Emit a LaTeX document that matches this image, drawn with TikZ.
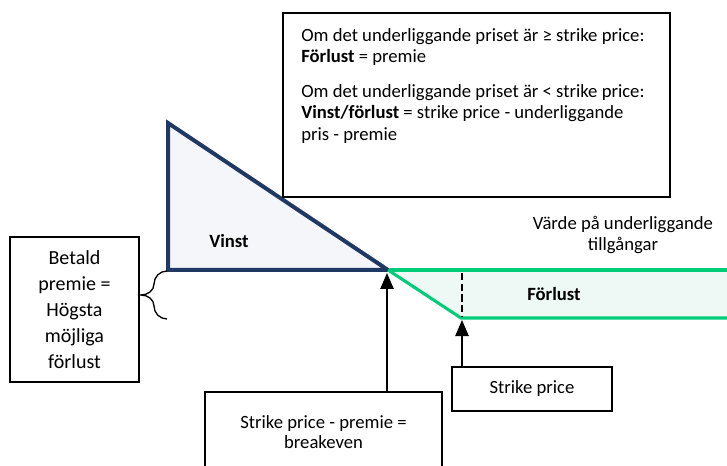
\documentclass[tikz,border=0pt]{standalone}
\usepackage{fontspec}
\setmainfont{Carlito}
\usetikzlibrary{arrows.meta}
\definecolor{navy}{RGB}{31,56,100}
\definecolor{navyfill}{RGB}{244,246,250}
\definecolor{grn}{RGB}{0,204,122}
\definecolor{grnfill}{RGB}{238,248,244}

\begin{document}
\begin{tikzpicture}[x=0.75pt, y=-0.75pt,
    box/.style = {draw, line width=1.1pt, fill=white, align=center, inner sep=0pt},
    up/.style = {-{Triangle[width=10pt,length=12pt]}, line width=1.1pt},
    bold/.style = {font=\fontsize{14}{15}\selectfont\bfseries},
    every node/.style = {font=\fontsize{14}{15}\selectfont}]
    \useasboundingbox (0,0) rectangle (727,466);

    % vinst
    \coordinate (t1) at (168,123);
    \coordinate (t2) at (168,270);
    \coordinate (t3) at (388,270);
    \draw[navy, fill=navyfill, line width=3pt] (t1) -- (t2) -- (t3) -- cycle;
    \node[bold] (vinst) at (229,241) {Vinst};

    % forlust
    \coordinate (g1) at (390,270);
    \coordinate (g2) at (461,318);
    \coordinate (g3) at (727,270);
    \coordinate (g4) at (727,318);
    \fill[grnfill] (g1) -- (g3) -- (g4) -- (g2) -- cycle;
    \draw[grn, line width=2.3pt] (g1) -- (g3);
    \draw[grn, line width=2.3pt, line join=round] (t3) -- (g2) -- (g4);
    \draw[dash pattern=on 5.5pt off 2.5pt, line width=2pt] (462,273) -- (462,317);
    \node[bold] (forlust) at (554,294) {Förlust};

    \node[align=center, font=\fontsize{14}{15.75}\selectfont] (varde) at (623,235) {Värde på underliggande\\tillgångar};

    % ruta uppe
    \node[box, minimum width=290.25pt, minimum height=138pt] (info) at (476.5,105) {};
    \node[anchor=north west, align=left, inner sep=0pt, font=\fontsize{14}{16.1}\selectfont] (infotext) at (301,28)
        {Om det underliggande priset är ≥ strike price:\\
         \textbf{Förlust} = premie\\[10pt]
         Om det underliggande priset är < strike price:\\
         \textbf{Vinst/förlust} = strike price - underliggande\\
         pris - premie};

    \node[box, minimum width=96.75pt, minimum height=108.75pt, font=\fontsize{15}{19.5}\selectfont] (premie) at (74.5,309.5)
        {Betald\\premie =\\Högsta\\möjliga\\förlust};
    \coordinate (tip) at (141,295);
    \draw[line width=1pt] (167,271) to[out=180,in=90] (154,284) to[out=-90,in=0] (tip)
        to[out=0,in=90] (154,306) to[out=-90,in=180] (167,319);

    \node[box, minimum width=177.75pt, minimum height=60pt] (breakeven) at (323.5,432) {Strike price - premie =\\breakeven};
    \node[box, minimum width=120pt, minimum height=33pt] (strike) at (532,389) {Strike price};

    \coordinate (be) at (387,273);
    \coordinate (sp) at (462,320);
    \draw[up] (breakeven.north -| be) -- (be);
    \draw[up] (strike.north -| sp) -- (sp);
\end{tikzpicture}
\end{document}
